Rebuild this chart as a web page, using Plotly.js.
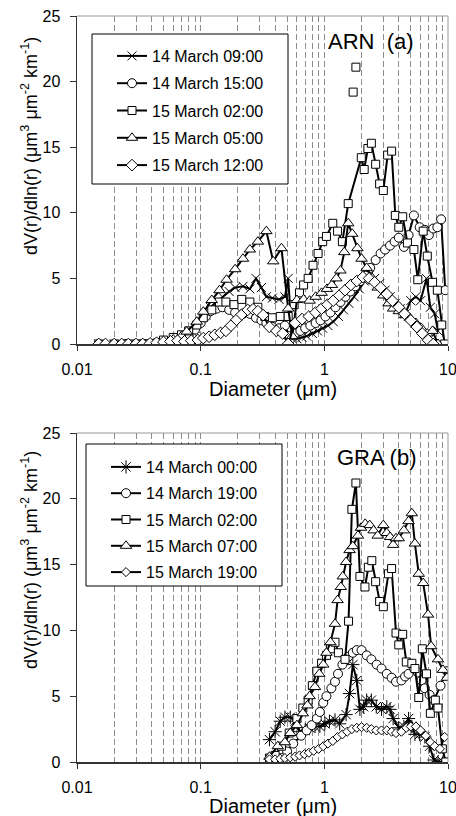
<!DOCTYPE html>
<html><head><meta charset="utf-8">
<script src="https://cdn.plot.ly/plotly-3.0.1.min.js"></script>
<style>html,body{margin:0;padding:0;background:#fff}#chart{width:456px;height:816px}</style>
</head><body><div id="chart"></div>
<script>
// ---------- Tick labels ----------
const xTickVals = [0.01, 0.1, 1, 10];
const xTickText = ['0.01', '0.1', '1', '10'];
const xMinorVals = [0.02,0.03,0.04,0.05,0.06,0.07,0.08,0.09,0.2,0.3,0.4,0.5,0.6,0.7,0.8,0.9,2,3,4,5,6,7,8,9];
const yTickVals = [0, 5, 10, 15, 20, 25];
const xTitle = 'Diameter (μm)';
const yTitle = 'dV(r)/dln(r) (μm<sup>3</sup> μm<sup>-2</sup> km<sup>-1</sup>)';
const panelLabels = ['ARN  (a)', 'GRA (b)'];

// ---------- Panel (a) ARN ----------
const arnNames = ['14 March 09:00', '14 March 15:00', '15 March 02:00', '15 March 05:00', '15 March 12:00'];

const arn0900_d = [0.015,0.02,0.025,0.03,0.035,0.04,0.045,0.05,0.06,0.07,0.08,0.09,0.1,0.11,0.12,0.135,0.15,0.17,0.19,0.22,0.25,0.28,0.31,0.34,0.38,0.43,0.48,0.51,0.55,0.6,0.66,0.72,0.8,0.88,0.97,1.07,1.18,1.3,1.43,1.58,1.74,1.92,2.1,2.3,2.55,2.8,3.1,3.4,3.75,4.1,4.5,5.0,5.5,6.0,6.7,7.2,7.8,8.3];
const arn0900_v = [0,0,0,0,0,0,0.05,0.1,0.2,0.4,0.7,1.2,1.7,2.2,2.8,3.2,3.6,4.0,4.3,4.4,4.2,5.0,4.3,3.6,3.5,3.4,3.6,5.0,0.4,0.4,0.5,0.6,0.8,1.0,1.2,1.4,1.7,2.1,2.6,3.1,3.6,4.2,4.8,5.2,5.0,4.6,4.1,3.6,3.1,2.7,2.3,3.3,3.6,3.3,5.0,2.8,2.3,1.0];

const arn1500_d = [0.015,0.02,0.025,0.03,0.035,0.04,0.045,0.05,0.06,0.07,0.08,0.09,0.1,0.11,0.12,0.135,0.15,0.17,0.19,0.22,0.25,0.28,0.31,0.34,0.38,0.43,0.48,0.52,0.58,0.64,0.7,0.77,0.85,0.93,1.02,1.12,1.23,1.35,1.48,1.62,1.78,1.95,2.15,2.35,2.6,2.85,3.1,3.4,3.7,4.0,4.4,4.8,5.3,5.9,6.5,7.0,7.6,8.2,8.8,9.5];
const arn1500_v = [0,0,0,0,0,0,0,0.05,0.2,0.4,0.7,1.1,1.6,2.1,2.5,2.7,2.8,2.6,2.4,2.3,2.3,2.0,1.8,1.6,1.3,1.2,1.4,0.6,0.8,1.0,1.2,1.4,1.6,1.8,2.1,2.4,2.8,3.2,3.6,4.0,4.4,4.8,5.2,5.8,6.4,6.9,7.2,7.5,7.8,8.1,7.4,8.3,9.8,8.9,8.7,8.3,8.8,8.9,9.5,4.1];

const arn0200_d = [0.015,0.02,0.025,0.03,0.035,0.04,0.045,0.05,0.06,0.07,0.08,0.093,0.105,0.123,0.142,0.16,0.186,0.215,0.25,0.29,0.33,0.38,0.44,0.51,0.57,0.63,0.68,0.74,0.81,0.89,0.97,1.04,1.17,1.28,1.4,1.56,1.99,2.1,2.25,2.4,2.6,2.8,3.0,3.25,3.5,3.75,4.0,4.3,4.7,5.3,5.7,6.3,6.8,7.5,8.2,8.9,9.4];
const arn0200_v = [0,0,0,0,0,0,0.1,0.3,0.5,0.7,1.0,1.45,2.0,2.6,3.2,3.2,3.0,3.4,3.2,2.8,2.1,2.0,2.1,2.1,3.0,3.9,4.5,5.0,6.0,6.9,7.8,8.2,9.2,8.6,7.8,10.7,14.2,13.3,14.9,15.3,13.7,12.2,11.7,14.4,14.7,9.8,8.9,9.7,7.7,7.2,4.9,8.6,6.7,4.7,4.1,1.45,0];
const arn0200_out_d = [1.71, 1.8];
const arn0200_out_v = [19.2, 21.1];

const arn0500_d = [0.015,0.02,0.025,0.03,0.035,0.04,0.045,0.05,0.06,0.07,0.077,0.093,0.105,0.123,0.142,0.162,0.19,0.22,0.25,0.29,0.34,0.386,0.45,0.51,0.55,0.6,0.68,0.76,0.85,0.95,1.05,1.15,1.25,1.35,1.45,1.56,1.68,1.85,2.0,2.2,2.45,2.7,3.0,3.3,3.6,4.0,4.5,4.9,5.5,6.1,6.8,7.5,8.3];
const arn0500_v = [0,0,0,0,0,0,0.05,0.15,0.35,0.6,0.94,1.7,2.46,3.35,4.1,4.9,5.7,6.5,7.2,7.8,8.6,6.3,7.3,2.7,0.6,3.35,3.4,3.3,3.6,3.9,4.2,4.5,5.0,5.6,7.0,9.2,8.4,7.3,6.5,5.8,5.0,4.3,3.7,3.1,2.7,2.5,2.2,2.0,1.6,1.2,0.8,1.0,0];

const arn1200_d = [0.015,0.017,0.02,0.023,0.026,0.03,0.034,0.039,0.044,0.05,0.057,0.065,0.074,0.084,0.095,0.105,0.117,0.13,0.145,0.16,0.176,0.195,0.215,0.24,0.265,0.29,0.32,0.36,0.41,0.46,0.51,0.58,0.66,0.75,0.85,0.95,1.06,1.18,1.32,1.47,1.64,1.83,2.05,2.3,2.55,2.85,3.2,3.55,4.0,4.45,5.0,5.6,6.2,6.9,7.6];
const arn1200_v = [0,0,0,0,0,0,0,0.05,0.1,0.15,0.2,0.25,0.2,0.25,0.3,0.45,0.55,0.7,0.85,1.0,1.4,1.85,2.25,2.6,2.65,2.5,2.2,1.3,1.0,0.8,0,1.6,1.9,2.1,2.4,2.7,3.0,3.3,3.7,4.1,4.5,4.8,5.1,5.0,4.7,4.3,3.8,3.3,2.8,2.3,1.8,1.3,0.8,0.3,0];

// ---------- Panel (b) GRA ----------
const graNames = ['14 March 00:00', '14 March 19:00', '15 March 02:00', '15 March 07:00', '15 March 19:00'];

const gra0000_d = [0.36,0.4,0.44,0.48,0.53,0.58,0.63,0.7,0.76,0.84,0.92,1.01,1.1,1.22,1.33,1.5,1.6,1.7,1.83,1.94,2.08,2.2,2.4,2.63,2.9,3.2,3.4,3.6,4.0,4.4,4.8,5.1,5.4,5.9,6.5,7.1,7.7,8.3,9.1];
const gra0000_v = [1.7,2.3,3.1,3.4,3.4,3.1,2.3,2.4,2.6,2.7,2.7,2.9,3.1,3.2,2.9,3.6,5.2,7.4,6.2,4.0,4.2,4.7,4.7,4.2,4.0,4.2,4.0,3.3,2.6,2.7,3.3,2.7,2.1,2.1,1.9,1.2,0.15,0,0];

const gra1900_d = [0.45,0.5,0.56,0.65,0.72,0.79,0.87,0.92,0.98,1.04,1.14,1.22,1.29,1.4,1.56,1.7,1.83,2.0,2.2,2.4,2.65,2.9,3.2,3.5,3.8,4.2,4.5,4.8,5.3,5.7,6.1,6.5,7.1,7.7,8.7,9.8];
const gra1900_v = [0.3,0.8,1.4,2.0,2.4,2.8,3.3,3.8,4.5,5.0,5.6,6.1,6.7,7.4,8.0,8.3,8.5,8.5,8.1,7.8,7.4,7.1,6.7,6.4,6.1,6.2,6.5,6.7,7.1,6.8,6.2,5.6,5.1,4.7,5.8,6.9];

const gra0200_d = [0.36,0.4,0.45,0.52,0.6,0.67,0.74,0.8,0.87,0.95,1.04,1.12,1.22,1.3,1.47,1.57,1.67,1.8,1.94,2.13,2.27,2.42,2.6,2.8,3.0,3.3,3.5,3.8,4.0,4.3,4.6,5.1,5.4,5.8,6.2,6.7,7.2,7.9,8.3,9.0,9.6];
const gra0200_v = [0.3,0.5,1.2,2.2,3.3,4.1,4.7,5.8,6.9,7.5,8.1,8.6,9.1,8.3,7.8,10.7,19.2,21.2,14.1,13.3,14.8,15.3,13.7,12.2,11.8,14.3,14.7,9.8,8.9,9.7,7.6,7.5,7.1,4.9,8.6,6.7,3.7,4.7,4.1,1.0,0];

const gra0700_d = [0.36,0.42,0.48,0.53,0.6,0.67,0.73,0.76,0.84,0.91,0.98,1.04,1.12,1.22,1.28,1.36,1.41,1.5,1.6,1.7,1.87,1.98,2.14,2.33,2.5,2.7,3.0,3.2,3.4,3.6,3.8,4.0,4.4,4.8,5.1,5.4,5.8,6.3,6.9,7.3,8.3,9.1,9.8];
const gra0700_v = [0.4,1.2,1.5,2.2,2.8,3.7,4.3,5.0,5.7,6.7,7.4,8.3,9.1,10.5,12.3,13.3,14.1,15.2,16.1,16.4,17.2,17.8,18.1,18.0,17.6,17.2,18.0,17.4,17.1,16.5,17.0,17.0,17.6,18.3,18.9,16.6,14.3,13.6,11.2,8.8,7.8,7.0,6.4];

const gra1900b_d = [0.36,0.4,0.44,0.48,0.53,0.58,0.63,0.69,0.75,0.82,0.9,0.98,1.07,1.17,1.28,1.4,1.53,1.67,1.83,2.0,2.2,2.4,2.63,2.9,3.2,3.5,3.8,4.2,4.6,5.0,5.5,6.0,6.6,7.2,7.8,8.6,9.4];
const gra1900b_v = [0.2,0.2,0.25,0.3,0.35,0.4,0.5,0.6,0.7,0.85,1.0,1.2,1.4,1.6,1.9,2.1,2.3,2.5,2.6,2.65,2.6,2.5,2.4,2.4,2.4,2.3,2.2,2.3,2.6,2.7,2.7,2.4,2.0,1.5,1.2,1.0,1.9];

// ---------- Build ----------
const FONT = 'Liberation Sans, Arial, sans-serif';
function series(d, v, name, sym, size, panel, opts) {
  opts = opts || {};
  return {
    type: 'scatter', x: d, y: v, name: name,
    mode: opts.mode || 'lines+markers',
    xaxis: panel === 1 ? 'x' : 'x2', yaxis: panel === 1 ? 'y' : 'y2',
    legend: panel === 1 ? 'legend' : 'legend2',
    legendgroup: name + panel,
    showlegend: opts.showlegend !== false,
    line: {color: '#000', width: 2},
    marker: {symbol: sym, size: size, color: sym.indexOf('open') >= 0 ? '#000' : '#fff',
             line: {color: '#000', width: 1}},
    hoverinfo: 'skip'
  };
}
const data = [
  series(arn0900_d, arn0900_v, arnNames[0], 'x-thin-open', 9, 1),
  series(arn1500_d, arn1500_v, arnNames[1], 'circle', 9, 1),
  series(arn0200_d, arn0200_v, arnNames[2], 'square', 8, 1),
  series(arn0200_out_d, arn0200_out_v, arnNames[2] + ' ', 'square', 8, 1, {mode: 'markers', showlegend: false}),
  series(arn0500_d, arn0500_v, arnNames[3], 'triangle-up', 10, 1),
  series(arn1200_d, arn1200_v, arnNames[4], 'diamond', 9, 1),
  series(gra0000_d, gra0000_v, graNames[0], 'asterisk-open', 11, 2),
  series(gra1900_d, gra1900_v, graNames[1], 'circle', 9, 2),
  series(gra0200_d, gra0200_v, graNames[2], 'square', 8, 2),
  series(gra0700_d, gra0700_v, graNames[3], 'triangle-up', 10, 2),
  series(gra1900b_d, gra1900b_v, graNames[4], 'diamond', 7, 2)
];

const W = 456, H = 816, L = 77, R = 8;
const py = p => 1 - p / H;               // pixel y -> paper
const px = p => (p - L) / (W - L - R);   // pixel x -> paper

const GRID = '#8c8c8c';
function xax(anchor) {
  return {
    type: 'log', range: [-2, 1], anchor: anchor,
    tickmode: 'array', tickvals: xTickVals, ticktext: xTickText,
    ticks: 'outside', ticklen: 5, tickcolor: '#333', tickwidth: 1, ticklabelstandoff: 5,
    ticklabeloverflow: 'allow',
    showline: true, linecolor: '#333', linewidth: 1.5,
    showgrid: true, gridcolor: GRID, gridwidth: 1, griddash: '6px,3px',
    minor: {tickmode: 'array', tickvals: xMinorVals, showgrid: true, gridcolor: GRID, gridwidth: 1, griddash: '6px,3px', ticks: ''},
    zeroline: false,
    tickfont: {family: FONT, size: 16, color: '#000'}
  };
}
function yax(anchor, dom) {
  return {
    range: [0, 25], domain: dom, anchor: anchor,
    tickmode: 'array', tickvals: yTickVals,
    ticks: 'outside', ticklen: 6, tickcolor: '#333', ticklabelstandoff: 6,
    showline: true, linecolor: '#333', linewidth: 1.5,
    showgrid: false, zeroline: false,
    tickfont: {family: FONT, size: 16, color: '#000'}
  };
}
const yDom1 = [py(344), py(16)];
const yDom2 = [py(762), py(433)];

function box(x0, x1, y0, y1) {
  return {type: 'rect', xref: 'paper', yref: 'paper', x0: px(x0), x1: px(x1), y0: py(y1), y1: py(y0),
          fillcolor: '#fff', line: {color: '#000', width: 1}, layer: 'above'};
}
function border(yd) {
  return [
    {type: 'line', xref: 'paper', yref: 'paper', x0: 0, x1: 1, y0: yd[1], y1: yd[1], line: {color: '#999', width: 1}, layer: 'above'},
    {type: 'line', xref: 'paper', yref: 'paper', x0: 1, x1: 1, y0: yd[0], y1: yd[1], line: {color: '#999', width: 1}, layer: 'above'}
  ];
}
function ann(text, x, y, size, extra) {
  return Object.assign({text: text, xref: 'paper', yref: 'paper', x: px(x), y: py(y), showarrow: false,
    xanchor: 'center', yanchor: 'middle', font: {family: FONT, size: size, color: '#000'}}, extra || {});
}

const legendCommon = {
  xanchor: 'left', yanchor: 'top', bgcolor: 'rgba(0,0,0,0)', borderwidth: 0,
  font: {family: FONT, size: 16, color: '#000'}, itemclick: false
};

const layout = {
  width: W, height: H,
  margin: {l: L, r: R, t: 0, b: 0},
  paper_bgcolor: '#fff', plot_bgcolor: '#fff',
  showlegend: true,
  xaxis: xax('y'),
  yaxis: yax('x', yDom1),
  xaxis2: xax('y2'),
  yaxis2: yax('x2', yDom2),
  legend: Object.assign({x: px(112), y: py(39), tracegroupgap: 3.5}, legendCommon),
  legend2: Object.assign({x: px(106), y: py(450), tracegroupgap: 2.5}, legendCommon),
  shapes: [box(92, 288, 34, 184), box(86, 282, 444, 586)].concat(border(yDom1), border(yDom2)),
  annotations: [
    ann(panelLabels[0], 371, 41, 22),
    ann(panelLabels[1], 376, 457, 22),
    ann(xTitle, 273, 389, 20),
    ann(xTitle, 273, 806, 20),
    ann(yTitle, 29, 146, 18, {textangle: -90}),
    ann(yTitle, 29, 560, 18, {textangle: -90})
  ]
};

Plotly.newPlot('chart', data, layout, {staticPlot: true, displayModeBar: false});
</script>
</body></html>
